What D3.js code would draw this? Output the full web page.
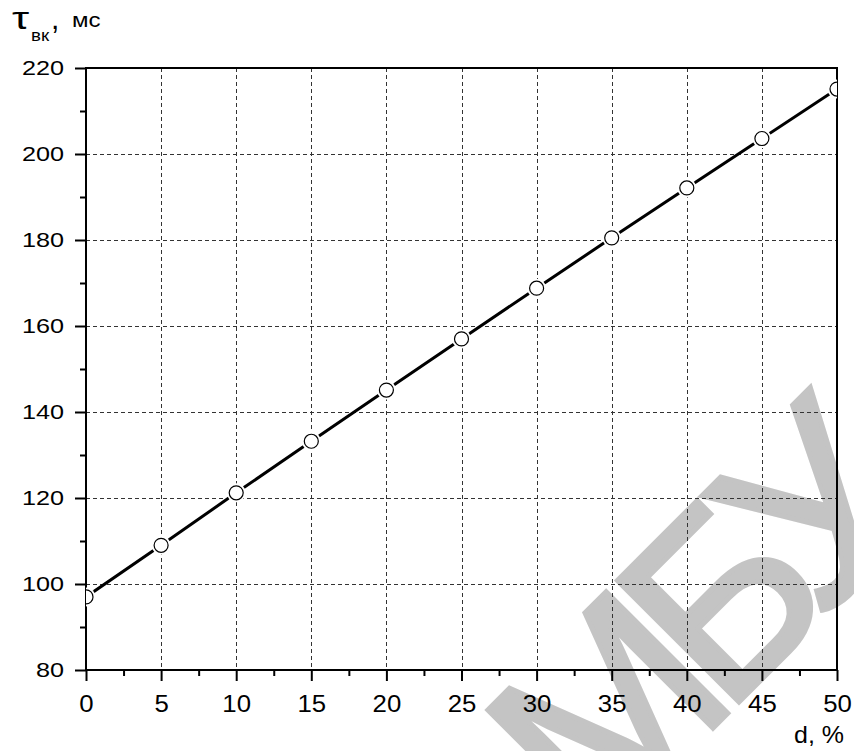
<!DOCTYPE html>
<html>
<head>
<meta charset="utf-8">
<script src="https://cdn.jsdelivr.net/npm/d3@7"></script>
<style>
  body { margin: 0; background: #fff; }
  text { font-family: "Liberation Sans", Arial, sans-serif; fill: #000; }
</style>
</head>
<body>
<svg id="chart"></svg>
<script>
// values
const dValues = [0, 5, 10, 15, 20, 25, 30, 35, 40, 45, 50];
const tauValues = [97, 109, 121.2, 133.2, 145.1, 157, 168.8, 180.5, 192.1, 203.6, 215.1];
const xTicks = [0, 5, 10, 15, 20, 25, 30, 35, 40, 45, 50];
const yTicks = [80, 100, 120, 140, 160, 180, 200, 220];
const xMinorTicks = [2.5, 7.5, 12.5, 17.5, 22.5, 27.5, 32.5, 37.5, 42.5, 47.5];
const yMinorTicks = [90, 110, 130, 150, 170, 190, 210];

// the original lettering is a bit wider than Arial
function widen(sel, k) {
  sel.each(function() {
    let w = this.getComputedTextLength();
    d3.select(this)
      .attr('textLength', w * k)
      .attr('lengthAdjust', 'spacingAndGlyphs');
  });
}

class LineChart {

  constructor(_config, _data) {
    this.config = {
      parentElement: _config.parentElement,
      containerWidth: _config.containerWidth || 854,
      containerHeight: _config.containerHeight || 751,
      margin: { top: 68, bottom: 81, right: 17, left: 86 }
    }
    this.data = _data;
    this.initVis();
  }

  initVis() {
    let vis = this;

    vis.width = vis.config.containerWidth - vis.config.margin.left - vis.config.margin.right;
    vis.height = vis.config.containerHeight - vis.config.margin.top - vis.config.margin.bottom;

    vis.svg = d3.select(vis.config.parentElement)
      .attr('width', vis.config.containerWidth)
      .attr('height', vis.config.containerHeight);

    // watermark sits behind everything
    vis.svg.append('text')
      .attr('transform', 'translate(595,846) rotate(-45)')
      .style('font-size', '250px')
      .style('letter-spacing', '-25px')
      .style('fill', '#c4c4c4')
      .style('stroke', '#c4c4c4')
      .style('stroke-width', 5)
      .text('МБУ');

    vis.chart = vis.svg.append('g')
      .attr('transform', `translate(${vis.config.margin.left},${vis.config.margin.top})`);

    vis.svg.append('clipPath')
      .attr('id', 'plot-clip')
      .append('rect')
      .attr('width', vis.width)
      .attr('height', vis.height);

    vis.xScale = d3.scaleLinear()
      .domain([0, 50])
      .range([0, vis.width]);

    vis.yScale = d3.scaleLinear()
      .domain([80, 220])
      .range([vis.height, 0]);

    // axis titles
    let title = vis.svg.append('g');
    title.append('text')
      .attr('x', 12).attr('y', 29)
      .style('font-size', '32px')
      .text('τ')
      .call(widen, 1.35);
    title.append('text')
      .attr('x', 31).attr('y', 41)
      .style('font-size', '17px')
      .text('вк')
      .call(widen, 1.1);
    title.append('text')
      .attr('x', 51).attr('y', 28.5)
      .style('font-size', '30px')
      .text(',');
    title.append('text')
      .attr('x', 72).attr('y', 27)
      .style('font-size', '20px')
      .text('мс')
      .call(widen, 1.2);

    vis.svg.append('text')
      .attr('x', 844).attr('y', 743)
      .attr('text-anchor', 'end')
      .style('font-size', '24px')
      .text('d, %')
      .call(widen, 1.04);

    vis.updateVis();
  }

  updateVis() {
    let vis = this;

    // dashed grid
    vis.chart.append('g')
      .selectAll('line')
      .data(xTicks.slice(1, -1))
      .join('line')
      .attr('x1', d => Math.round(vis.xScale(d)) + 0.5)
      .attr('x2', d => Math.round(vis.xScale(d)) + 0.5)
      .attr('y1', 0)
      .attr('y2', vis.height)
      .attr('stroke', '#333')
      .attr('stroke-width', 1)
      .attr('stroke-dasharray', '4,3');

    vis.chart.append('g')
      .selectAll('line')
      .data(yTicks.slice(1, -1))
      .join('line')
      .attr('y1', d => Math.round(vis.yScale(d)) + 0.5)
      .attr('y2', d => Math.round(vis.yScale(d)) + 0.5)
      .attr('x1', 0)
      .attr('x2', vis.width)
      .attr('stroke', '#333')
      .attr('stroke-width', 1)
      .attr('stroke-dasharray', '4,3');

    // axes
    vis.xAxis = d3.axisBottom(vis.xScale)
      .tickValues(xTicks)
      .tickSize(11)
      .tickPadding(14)
      .tickFormat(d3.format('d'));

    vis.yAxis = d3.axisLeft(vis.yScale)
      .tickValues(yTicks)
      .tickSize(11)
      .tickPadding(11)
      .tickFormat(d3.format('d'));

    vis.xAxisGroup = vis.chart.append('g')
      .attr('transform', `translate(0,${vis.height})`)
      .call(vis.xAxis);

    vis.yAxisGroup = vis.chart.append('g')
      .call(vis.yAxis);

    vis.chart.append('g')
      .attr('transform', `translate(0,${vis.height})`)
      .call(d3.axisBottom(vis.xScale).tickValues(xMinorTicks).tickSize(6).tickFormat(''));

    vis.chart.append('g')
      .call(d3.axisLeft(vis.yScale).tickValues(yMinorTicks).tickSize(6).tickFormat(''));

    vis.chart.selectAll('.domain').remove();
    vis.chart.selectAll('.tick line')
      .attr('stroke', '#000')
      .attr('stroke-width', 2);
    vis.chart.selectAll('.tick text')
      .style('font-family', '"Liberation Sans", Arial, sans-serif')
      .attr('fill', '#000');
    vis.xAxisGroup.selectAll('.tick text')
      .style('font-size', '23px')
      .attr('dy', '0.0em')
      .attr('y', 42)
      .call(widen, 1.12);
    vis.yAxisGroup.selectAll('.tick text')
      .style('font-size', '21px')
      .call(widen, 1.2);

    // frame
    vis.chart.append('rect')
      .attr('width', vis.width)
      .attr('height', vis.height)
      .attr('fill', 'none')
      .attr('stroke', '#000')
      .attr('stroke-width', 2);

    // series
    let plot = vis.chart.append('g')
      .attr('clip-path', 'url(#plot-clip)');

    let line = d3.line()
      .x(d => vis.xScale(d.d))
      .y(d => vis.yScale(d.tau));

    plot.append('path')
      .datum(vis.data)
      .attr('d', line)
      .attr('fill', 'none')
      .attr('stroke', '#000')
      .attr('stroke-width', 3);

    // white halo makes the small gap between line and marker
    plot.selectAll('.halo')
      .data(vis.data)
      .join('circle')
      .attr('class', 'halo')
      .attr('cx', d => vis.xScale(d.d))
      .attr('cy', d => vis.yScale(d.tau))
      .attr('r', 9.5)
      .attr('fill', '#fff');

    plot.selectAll('.marker')
      .data(vis.data)
      .join('circle')
      .attr('class', 'marker')
      .attr('cx', d => vis.xScale(d.d))
      .attr('cy', d => vis.yScale(d.tau))
      .attr('r', 7)
      .attr('fill', '#fff')
      .attr('stroke', '#000')
      .attr('stroke-width', 1.2);
  }
}

let data = dValues.map((d, i) => ({ d: d, tau: tauValues[i] }));
let chart = new LineChart({ parentElement: '#chart' }, data);
</script>
</body>
</html>
